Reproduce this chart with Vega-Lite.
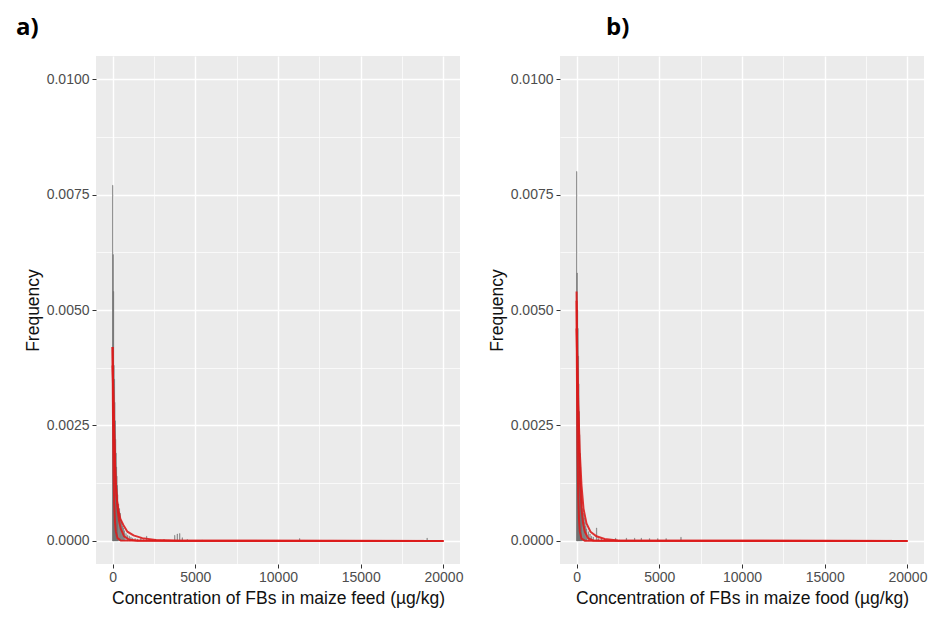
{
  "$schema": "https://vega.github.io/schema/vega-lite/v6.json",
  "background": "white",
  "padding": {"left": 16, "top": 16, "right": 5, "bottom": 5},
  "spacing": 25,
  "config": {
    "font": "Liberation Sans",
    "view": {"fill": "#ebebeb", "stroke": null},
    "axis": {
      "domain": false,
      "grid": true,
      "gridColor": "#ffffff",
      "tickColor": "#333333",
      "tickSize": 4,
      "tickWidth": 1,
      "labelColor": "#4d4d4d",
      "labelFontSize": 14,
      "labelFont": "Liberation Sans",
      "titleFont": "Liberation Sans",
      "titleFontSize": 17.5,
      "titleFontWeight": "normal",
      "titleColor": "#111111",
      "labelOverlap": false,
      "labelFlush": false
    },
    "axisX": {"labelPadding": 2, "titlePadding": 5},
    "axisY": {"labelPadding": 3, "titlePadding": 4},
    "title": {"font": "Open Sans", "fontSize": 24, "fontWeight": "bold", "color": "#000000", "anchor": "start", "frame": "group", "offset": 16}
  },
  "datasets": {
    "hist_feed": [
      {"lo": 0, "hi": 25, "density": 0.0077},
      {"lo": 25, "hi": 50, "density": 0.0062},
      {"lo": 50, "hi": 75, "density": 0.0054},
      {"lo": 75, "hi": 100, "density": 0.0038},
      {"lo": 100, "hi": 125, "density": 0.0035},
      {"lo": 125, "hi": 150, "density": 0.003},
      {"lo": 150, "hi": 175, "density": 0.0026},
      {"lo": 175, "hi": 200, "density": 0.0022},
      {"lo": 200, "hi": 225, "density": 0.0019},
      {"lo": 225, "hi": 250, "density": 0.0016},
      {"lo": 250, "hi": 275, "density": 0.0014},
      {"lo": 275, "hi": 300, "density": 0.0012},
      {"lo": 300, "hi": 325, "density": 0.001},
      {"lo": 350, "hi": 375, "density": 0.0008},
      {"lo": 400, "hi": 425, "density": 0.0007},
      {"lo": 450, "hi": 475, "density": 0.0006},
      {"lo": 500, "hi": 525, "density": 0.00045},
      {"lo": 550, "hi": 575, "density": 0.0004},
      {"lo": 600, "hi": 625, "density": 0.00032},
      {"lo": 650, "hi": 675, "density": 0.00028},
      {"lo": 700, "hi": 725, "density": 0.00022},
      {"lo": 800, "hi": 825, "density": 0.00016},
      {"lo": 900, "hi": 925, "density": 0.00012},
      {"lo": 1000, "hi": 1025, "density": 0.0001},
      {"lo": 1100, "hi": 1125, "density": 0.00008},
      {"lo": 1200, "hi": 1225, "density": 0.00006},
      {"lo": 1350, "hi": 1375, "density": 0.00005},
      {"lo": 1500, "hi": 1525, "density": 0.00004},
      {"lo": 1700, "hi": 1725, "density": 0.00006},
      {"lo": 1850, "hi": 1875, "density": 0.00003},
      {"lo": 2050, "hi": 2075, "density": 0.0001},
      {"lo": 2200, "hi": 2225, "density": 0.00003},
      {"lo": 2400, "hi": 2425, "density": 0.00002},
      {"lo": 2600, "hi": 2625, "density": 0.00004},
      {"lo": 2900, "hi": 2925, "density": 0.00002},
      {"lo": 3100, "hi": 3125, "density": 0.00003},
      {"lo": 3400, "hi": 3425, "density": 0.00002},
      {"lo": 3750, "hi": 3775, "density": 0.00012},
      {"lo": 3900, "hi": 3925, "density": 0.00015},
      {"lo": 4050, "hi": 4075, "density": 0.00016},
      {"lo": 4200, "hi": 4225, "density": 0.00007},
      {"lo": 4500, "hi": 4525, "density": 0.00003},
      {"lo": 5400, "hi": 5425, "density": 0.00002},
      {"lo": 11300, "hi": 11325, "density": 0.00005},
      {"lo": 19000, "hi": 19025, "density": 0.00006}
    ],
    "fit_feed": [
      {"curve": "A", "x": 0, "y": 0.0042},
      {"curve": "A", "x": 25, "y": 0.0036},
      {"curve": "A", "x": 50, "y": 0.003},
      {"curve": "A", "x": 75, "y": 0.0026},
      {"curve": "A", "x": 100, "y": 0.0022},
      {"curve": "A", "x": 150, "y": 0.0016},
      {"curve": "A", "x": 200, "y": 0.0012},
      {"curve": "A", "x": 300, "y": 0.0007},
      {"curve": "A", "x": 400, "y": 0.00042},
      {"curve": "A", "x": 500, "y": 0.00026},
      {"curve": "A", "x": 700, "y": 0.0001},
      {"curve": "A", "x": 1000, "y": 0.00003},
      {"curve": "A", "x": 1500, "y": 0.000005},
      {"curve": "A", "x": 2000, "y": 0.000001},
      {"curve": "A", "x": 20000, "y": 0},
      {"curve": "B", "x": 0, "y": 0.0038},
      {"curve": "B", "x": 50, "y": 0.0031},
      {"curve": "B", "x": 100, "y": 0.0024},
      {"curve": "B", "x": 180, "y": 0.0013},
      {"curve": "B", "x": 260, "y": 0.0009},
      {"curve": "B", "x": 360, "y": 0.00065},
      {"curve": "B", "x": 480, "y": 0.00047},
      {"curve": "B", "x": 660, "y": 0.00034},
      {"curve": "B", "x": 900, "y": 0.0002},
      {"curve": "B", "x": 1270, "y": 0.00012},
      {"curve": "B", "x": 1800, "y": 0.00006},
      {"curve": "B", "x": 2600, "y": 0.00002},
      {"curve": "B", "x": 4000, "y": 0.000005},
      {"curve": "B", "x": 20000, "y": 0},
      {"curve": "C", "x": 0, "y": 0.0042},
      {"curve": "C", "x": 20, "y": 0.003},
      {"curve": "C", "x": 40, "y": 0.0021},
      {"curve": "C", "x": 60, "y": 0.0015},
      {"curve": "C", "x": 100, "y": 0.0008},
      {"curve": "C", "x": 150, "y": 0.0004},
      {"curve": "C", "x": 200, "y": 0.0002},
      {"curve": "C", "x": 300, "y": 0.00006},
      {"curve": "C", "x": 500, "y": 0.00001},
      {"curve": "C", "x": 20000, "y": 0}
    ],
    "hist_food": [
      {"lo": 0, "hi": 25, "density": 0.008},
      {"lo": 25, "hi": 50, "density": 0.0058},
      {"lo": 50, "hi": 75, "density": 0.005},
      {"lo": 75, "hi": 100, "density": 0.0046},
      {"lo": 100, "hi": 125, "density": 0.004},
      {"lo": 125, "hi": 150, "density": 0.0034},
      {"lo": 150, "hi": 175, "density": 0.0028},
      {"lo": 175, "hi": 200, "density": 0.0023},
      {"lo": 200, "hi": 225, "density": 0.0019},
      {"lo": 225, "hi": 250, "density": 0.0016},
      {"lo": 250, "hi": 275, "density": 0.0013},
      {"lo": 275, "hi": 300, "density": 0.0011},
      {"lo": 300, "hi": 325, "density": 0.0009},
      {"lo": 350, "hi": 375, "density": 0.0007},
      {"lo": 400, "hi": 425, "density": 0.0006},
      {"lo": 450, "hi": 475, "density": 0.0005},
      {"lo": 500, "hi": 525, "density": 0.0004},
      {"lo": 550, "hi": 575, "density": 0.00032},
      {"lo": 600, "hi": 625, "density": 0.00026},
      {"lo": 700, "hi": 725, "density": 0.0002},
      {"lo": 800, "hi": 825, "density": 0.00015},
      {"lo": 900, "hi": 925, "density": 0.0001},
      {"lo": 1000, "hi": 1025, "density": 0.00008},
      {"lo": 1200, "hi": 1225, "density": 0.00028},
      {"lo": 1300, "hi": 1325, "density": 0.00005},
      {"lo": 1500, "hi": 1525, "density": 0.00004},
      {"lo": 1700, "hi": 1725, "density": 0.00003},
      {"lo": 2000, "hi": 2025, "density": 0.00002},
      {"lo": 2350, "hi": 2375, "density": 0.00006},
      {"lo": 2600, "hi": 2625, "density": 0.00002},
      {"lo": 3000, "hi": 3025, "density": 0.00006},
      {"lo": 3500, "hi": 3525, "density": 0.00006},
      {"lo": 3900, "hi": 3925, "density": 0.00006},
      {"lo": 4400, "hi": 4425, "density": 0.00005},
      {"lo": 4900, "hi": 4925, "density": 0.00005},
      {"lo": 5400, "hi": 5425, "density": 0.00005},
      {"lo": 6300, "hi": 6325, "density": 0.00008}
    ],
    "fit_food": [
      {"curve": "A", "x": 0, "y": 0.0054},
      {"curve": "A", "x": 25, "y": 0.0045},
      {"curve": "A", "x": 50, "y": 0.0038},
      {"curve": "A", "x": 75, "y": 0.0032},
      {"curve": "A", "x": 100, "y": 0.0027},
      {"curve": "A", "x": 150, "y": 0.0019},
      {"curve": "A", "x": 200, "y": 0.00135},
      {"curve": "A", "x": 300, "y": 0.0007},
      {"curve": "A", "x": 400, "y": 0.00037},
      {"curve": "A", "x": 500, "y": 0.0002},
      {"curve": "A", "x": 700, "y": 0.00006},
      {"curve": "A", "x": 1000, "y": 0.00001},
      {"curve": "A", "x": 1500, "y": 0.000001},
      {"curve": "A", "x": 20000, "y": 0},
      {"curve": "B", "x": 0, "y": 0.0046},
      {"curve": "B", "x": 50, "y": 0.0037},
      {"curve": "B", "x": 100, "y": 0.003},
      {"curve": "B", "x": 200, "y": 0.0019},
      {"curve": "B", "x": 300, "y": 0.0012},
      {"curve": "B", "x": 420, "y": 0.0007},
      {"curve": "B", "x": 600, "y": 0.00038},
      {"curve": "B", "x": 840, "y": 0.0002},
      {"curve": "B", "x": 1200, "y": 0.0001},
      {"curve": "B", "x": 1700, "y": 0.00004},
      {"curve": "B", "x": 2500, "y": 0.00001},
      {"curve": "B", "x": 20000, "y": 0},
      {"curve": "C", "x": 0, "y": 0.0052},
      {"curve": "C", "x": 20, "y": 0.0038},
      {"curve": "C", "x": 40, "y": 0.0027},
      {"curve": "C", "x": 60, "y": 0.0019},
      {"curve": "C", "x": 100, "y": 0.001},
      {"curve": "C", "x": 150, "y": 0.00045},
      {"curve": "C", "x": 200, "y": 0.0002},
      {"curve": "C", "x": 300, "y": 0.00005},
      {"curve": "C", "x": 500, "y": 0.000005},
      {"curve": "C", "x": 20000, "y": 0}
    ]
  },
  "hconcat": [
    {
      "title": {"text": "a)", "dx": -80},
      "width": 364,
      "height": 508,
      "layer": [
        {
          "data": {"name": "hist_feed"},
          "mark": {"type": "rect", "fill": "#8f8f8f", "stroke": "#666666", "strokeWidth": 0.4},
          "encoding": {
            "x": {
              "field": "lo", "type": "quantitative",
              "title": "Concentration of FBs in maize feed (µg/kg)",
              "scale": {"domain": [-1000, 21000], "nice": false, "zero": false},
              "axis": {
                "values": [0, 2500, 5000, 7500, 10000, 12500, 15000, 17500, 20000],
                "labelExpr": "datum.value % 5000 === 0 ? datum.label : ''",
                "format": "d",
                "gridWidth": {"condition": {"test": "datum.value % 5000 === 0", "value": 1.4}, "value": 0.7},
                "tickOpacity": {"condition": {"test": "datum.value % 5000 === 0", "value": 1}, "value": 0}
              }
            },
            "x2": {"field": "hi"},
            "y": {
              "field": "density", "type": "quantitative",
              "title": "Frequency",
              "scale": {"domain": [-0.0005, 0.0105], "nice": false, "zero": false},
              "axis": {
                "values": [0, 0.00125, 0.0025, 0.00375, 0.005, 0.00625, 0.0075, 0.00875, 0.01],
                "format": ".4f",
                "labelExpr": "round(datum.value * 100000) % 250 === 0 ? datum.label : ''",
                "gridWidth": {"condition": {"test": "round(datum.value * 100000) % 250 === 0", "value": 1.4}, "value": 0.7},
                "tickOpacity": {"condition": {"test": "round(datum.value * 100000) % 250 === 0", "value": 1}, "value": 0}
              }
            },
            "y2": {"datum": 0}
          }
        },
        {
          "data": {"name": "fit_feed"},
          "mark": {"type": "line", "color": "#dc1c1c", "strokeWidth": 2, "opacity": 0.9},
          "encoding": {
            "x": {"field": "x", "type": "quantitative", "title": "Concentration of FBs in maize feed (µg/kg)"},
            "y": {"field": "y", "type": "quantitative", "title": "Frequency"},
            "detail": {"field": "curve"},
            "order": {"field": "x", "type": "quantitative"}
          }
        }
      ]
    },
    {
      "title": {"text": "b)", "dx": 46},
      "width": 364,
      "height": 508,
      "layer": [
        {
          "data": {"name": "hist_food"},
          "mark": {"type": "rect", "fill": "#8f8f8f", "stroke": "#666666", "strokeWidth": 0.4},
          "encoding": {
            "x": {
              "field": "lo", "type": "quantitative",
              "title": "Concentration of FBs in maize food (µg/kg)",
              "scale": {"domain": [-1000, 21000], "nice": false, "zero": false},
              "axis": {
                "values": [0, 2500, 5000, 7500, 10000, 12500, 15000, 17500, 20000],
                "labelExpr": "datum.value % 5000 === 0 ? datum.label : ''",
                "format": "d",
                "gridWidth": {"condition": {"test": "datum.value % 5000 === 0", "value": 1.4}, "value": 0.7},
                "tickOpacity": {"condition": {"test": "datum.value % 5000 === 0", "value": 1}, "value": 0}
              }
            },
            "x2": {"field": "hi"},
            "y": {
              "field": "density", "type": "quantitative",
              "title": "Frequency",
              "scale": {"domain": [-0.0005, 0.0105], "nice": false, "zero": false},
              "axis": {
                "values": [0, 0.00125, 0.0025, 0.00375, 0.005, 0.00625, 0.0075, 0.00875, 0.01],
                "format": ".4f",
                "labelExpr": "round(datum.value * 100000) % 250 === 0 ? datum.label : ''",
                "gridWidth": {"condition": {"test": "round(datum.value * 100000) % 250 === 0", "value": 1.4}, "value": 0.7},
                "tickOpacity": {"condition": {"test": "round(datum.value * 100000) % 250 === 0", "value": 1}, "value": 0}
              }
            },
            "y2": {"datum": 0}
          }
        },
        {
          "data": {"name": "fit_food"},
          "mark": {"type": "line", "color": "#dc1c1c", "strokeWidth": 2, "opacity": 0.9},
          "encoding": {
            "x": {"field": "x", "type": "quantitative", "title": "Concentration of FBs in maize food (µg/kg)"},
            "y": {"field": "y", "type": "quantitative", "title": "Frequency"},
            "detail": {"field": "curve"},
            "order": {"field": "x", "type": "quantitative"}
          }
        }
      ]
    }
  ]
}
